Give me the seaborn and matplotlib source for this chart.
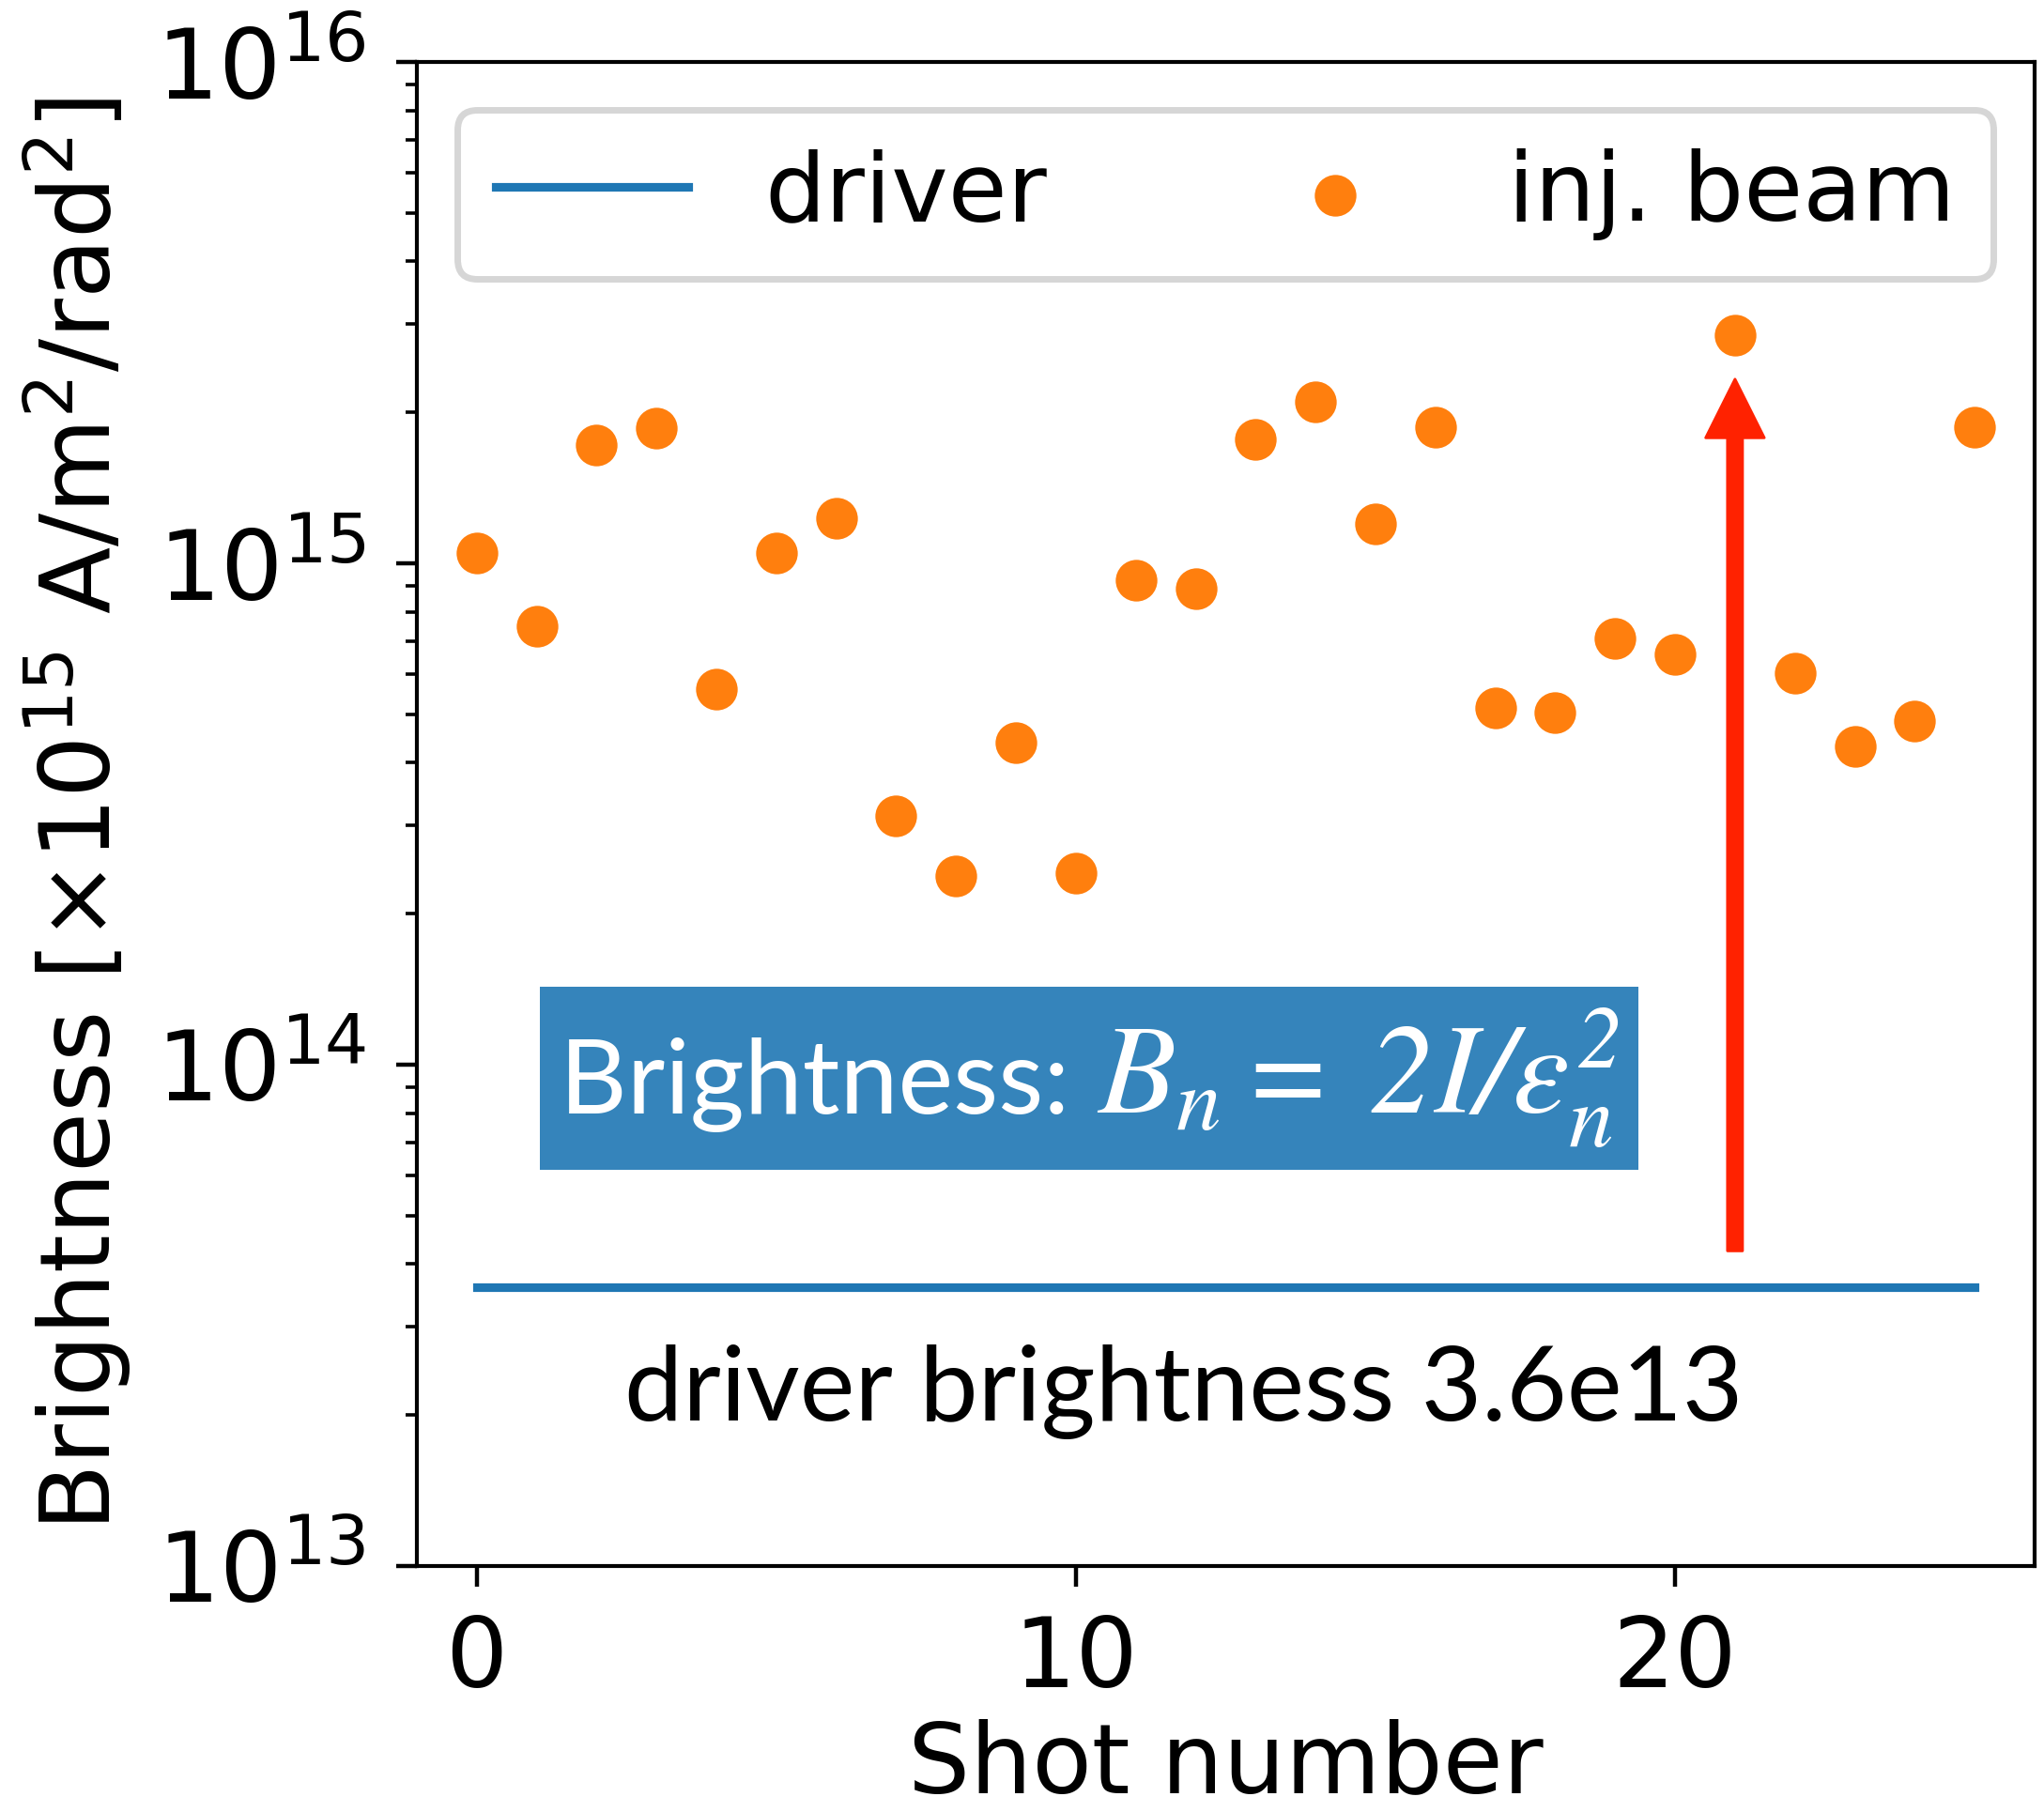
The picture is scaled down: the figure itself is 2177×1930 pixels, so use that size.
import numpy as np
import pandas as pd
import matplotlib
matplotlib.use("Agg")
import matplotlib.pyplot as plt
import seaborn as sns
from matplotlib.offsetbox import TextArea, HPacker, AnnotationBbox

# ---- data ----
shots = list(range(26))
inj_brightness = [1.05e15, 7.5e14, 1.72e15, 1.86e15, 5.6e14, 1.05e15, 1.23e15, 3.13e14,
                  2.38e14, 4.38e14, 2.41e14, 9.25e14, 8.9e14, 1.77e15, 2.10e15, 1.20e15,
                  1.87e15, 5.15e14, 5.03e14, 7.07e14, 6.58e14, 2.85e15, 6.05e14, 4.31e14,
                  4.85e14, 1.87e15]
driver_x = [0, 25]
driver_value = 3.6e13
driver_y = [driver_value, driver_value]
arrow_x = 21
arrow_from = 4.25e13
arrow_to = 2.33e15

FS = 37.5
plt.rcParams.update({
    "mathtext.fontset": "dejavusans",
    "mathtext.rm": "STIXGeneral:italic",
    "mathtext.it": "STIXGeneral:italic",
    "mathtext.bf": "STIXGeneral:italic:bold",
    "axes.linewidth": 1.5,
})

fig = plt.figure(figsize=(10.885, 9.65), dpi=200)
ax = fig.add_axes([0.2039, 0.1358, 0.9954 - 0.2039, 0.9658 - 0.1358])

sns.lineplot(x=driver_x, y=driver_y, ax=ax, color="C0", linewidth=3.3, label="driver")
sns.scatterplot(x=shots, y=inj_brightness, ax=ax, color="C1", s=255, linewidth=0,
                label="inj. beam", zorder=3)

ax.set_yscale("log")
ax.set_ylim(1e13, 1e16)
ax.set_xlim(-1, 26)
ax.set_xticks([0, 10, 20])

ax.tick_params(axis="both", which="major", labelsize=FS, length=8, width=1.6)
ax.tick_params(axis="both", which="minor", length=4.5, width=1.3)
ax.tick_params(axis="y", which="major", pad=11.5)
ax.tick_params(axis="x", which="major", pad=10)
ax.set_xlabel("Shot number", fontsize=FS, labelpad=4)
ax.set_ylabel("Brightness [$\\times$10$^{15}$ A/m$^2$/rad$^2$]", fontsize=FS, labelpad=8)
ax.yaxis.label.set_math_fontfamily("dejavusans")

leg = ax.legend(loc="upper center", ncol=2, fontsize=36.8)
leg.get_frame().set_linewidth(2.5)

ax.annotate("", xy=(arrow_x, arrow_to), xytext=(arrow_x, arrow_from),
            arrowprops=dict(width=5.8, headwidth=22.5, headlength=22.5,
                            color="#ff2200", shrink=0.0))

ta1 = TextArea("Brightness: ", textprops=dict(fontsize=40, fontfamily="Lato", color="white"))
ta2 = TextArea("$B_n = \\:2I/\\epsilon_n^2$",
               textprops=dict(fontsize=49, color="white", math_fontfamily="custom"))
pack = HPacker(children=[ta1, ta2], align="baseline", pad=0, sep=0)
ab = AnnotationBbox(pack, (10.22, 9.4e13), xycoords="data", frameon=True, pad=0.75,
                    bboxprops=dict(facecolor="C0", alpha=0.9, edgecolor="none"))
ax.add_artist(ab)

ax.text(11.8, 2.22e13, "driver brightness 3.6e13", fontsize=40, fontfamily="Lato",
        color="black", ha="center", va="center")

fig.savefig("out.png", dpi=200)
